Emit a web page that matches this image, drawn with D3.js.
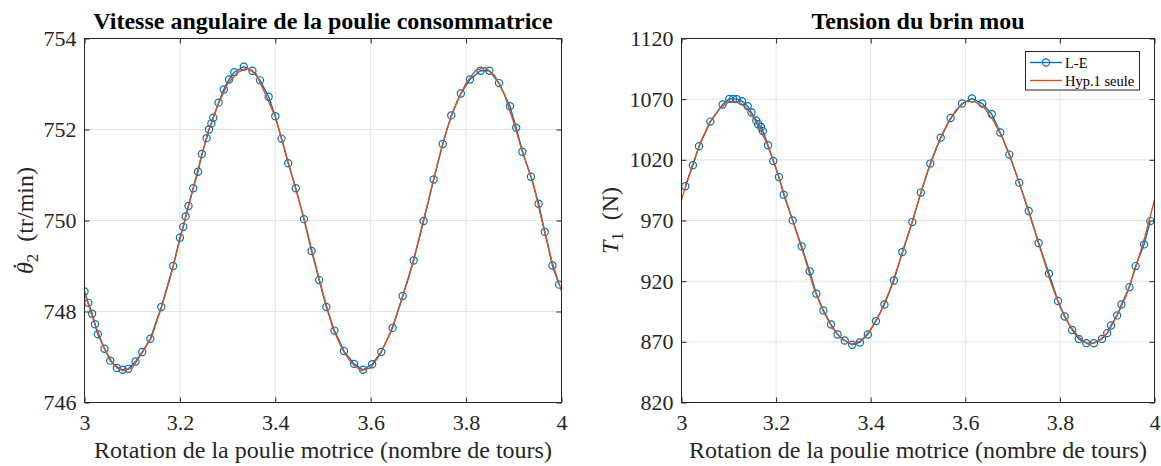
<!DOCTYPE html>
<html><head><meta charset="utf-8">
<script src="https://cdn.jsdelivr.net/npm/d3@7"></script>
<style>
html,body{margin:0;padding:0;background:#fff;}
svg{display:block;}
text{font-family:"Liberation Serif","Times New Roman",serif;fill:#262626;}
</style></head>
<body>
<svg id="chart" width="1161" height="466"></svg>
<script>
// ---------- DATA ----------
const xTicks = [3, 3.2, 3.4, 3.6, 3.8, 4];
const xTickLabels = ["3", "3.2", "3.4", "3.6", "3.8", "4"];
const leftYTicks = [746, 748, 750, 752, 754];
const rightYTicks = [820, 870, 920, 970, 1020, 1070, 1120];

const seriesNames = ["L-E", "Hyp.1 seule"];

// Left: angular velocity (tr/min), L-E (markers)
const leftLEx = [3.000,3.008,3.016,3.022,3.028,3.042,3.054,3.068,3.080,3.092,3.107,3.121,3.138,3.161,3.186,3.200,3.207,3.212,3.218,3.228,3.238,3.246,3.256,3.261,3.266,3.270,3.281,3.292,3.303,3.314,3.334,3.352,3.368,3.386,3.400,3.413,3.427,3.443,3.460,3.476,3.492,3.507,3.524,3.544,3.565,3.584,3.603,3.622,3.646,3.667,3.690,3.711,3.732,3.751,3.769,3.789,3.808,3.830,3.849,3.869,3.892,3.905,3.918,3.936,3.952,3.965,3.981,3.995];
const leftLEy = [748.44,748.19,747.95,747.72,747.50,747.18,746.92,746.76,746.72,746.74,746.90,747.11,747.40,748.10,749.00,749.62,749.86,750.09,750.32,750.71,751.07,751.46,751.81,752.00,752.13,752.26,752.59,752.88,753.10,753.26,753.38,753.29,753.08,752.72,752.29,751.80,751.26,750.71,750.03,749.33,748.69,748.10,747.58,747.13,746.85,746.72,746.84,747.11,747.64,748.34,749.12,749.99,750.90,751.68,752.31,752.79,753.10,753.29,753.29,753.02,752.51,752.04,751.51,750.96,750.37,749.75,749.01,748.59];
// Left: Hyp.1 seule (line)
const leftH1x = [3.00,3.02,3.04,3.06,3.08,3.10,3.12,3.14,3.16,3.18,3.20,3.22,3.24,3.26,3.28,3.30,3.32,3.34,3.36,3.38,3.40,3.42,3.44,3.46,3.48,3.50,3.52,3.54,3.56,3.58,3.60,3.62,3.64,3.66,3.68,3.70,3.72,3.74,3.76,3.78,3.80,3.82,3.84,3.86,3.88,3.90,3.92,3.94,3.96,3.98,4.00];
const leftH1y = [748.40,747.78,747.22,746.85,746.70,746.76,747.08,747.42,748.05,748.75,749.58,750.40,751.20,751.98,752.55,753.00,753.25,753.35,753.22,752.76,752.28,751.55,750.80,750.05,749.20,748.40,747.65,747.18,746.86,746.70,746.76,747.06,747.50,748.10,748.75,749.55,750.40,751.25,752.02,752.60,753.02,753.30,753.36,753.18,752.78,752.15,751.45,750.85,749.95,749.10,748.45];

// Right: slack side tension (N), L-E (markers)
const rightLEx = [3.008,3.024,3.037,3.061,3.087,3.101,3.109,3.117,3.128,3.140,3.148,3.158,3.162,3.168,3.172,3.183,3.194,3.206,3.216,3.235,3.254,3.271,3.285,3.300,3.316,3.330,3.345,3.361,3.377,3.394,3.411,3.429,3.449,3.467,3.488,3.506,3.526,3.548,3.569,3.593,3.614,3.636,3.656,3.674,3.693,3.714,3.734,3.755,3.777,3.796,3.810,3.826,3.840,3.856,3.872,3.889,3.900,3.908,3.921,3.930,3.947,3.960,3.978,3.991];
const rightLEy = [998.2,1015.5,1031.2,1051.5,1065.6,1070.2,1070.2,1070.0,1068.3,1064.2,1059.0,1052.5,1049.3,1047.1,1043.8,1032.0,1019.0,1005.9,991.3,970.1,948.7,928.1,909.7,895.9,884.3,876.1,871.1,867.6,869.5,876.1,887.1,900.8,920.5,944.0,968.7,993.0,1016.9,1038.3,1054.5,1066.4,1070.5,1066.4,1057.6,1042.5,1024.3,1001.2,977.8,951.4,926.2,903.6,890.9,879.8,872.4,868.9,868.9,872.4,877.2,883.5,891.8,900.8,915.1,932.4,950.3,969.5];
// Right: Hyp.1 seule (line)
const rightH1x = [3.00,3.02,3.04,3.06,3.08,3.10,3.12,3.14,3.16,3.18,3.20,3.22,3.24,3.26,3.28,3.30,3.32,3.34,3.36,3.38,3.40,3.42,3.44,3.46,3.48,3.50,3.52,3.54,3.56,3.58,3.60,3.62,3.64,3.66,3.68,3.70,3.72,3.74,3.76,3.78,3.80,3.82,3.84,3.86,3.88,3.90,3.92,3.94,3.96,3.98,4.00];
const rightH1y = [987,1012,1034,1051,1062,1068,1068,1062,1050,1034,1013,988,964,940,914,895,881,872,868,871,880,894,912,935,959,985,1010,1031,1048,1061,1068,1068,1063,1052,1037,1017,994,970,945,920,899,884,874,868,870,877,891,908,931,957,987];

// ---------- DRAWING ----------
const BLUE = "#0072BD", ORANGE = "#D95319", AX = "#262626", GRID = "#e3e3e3";
const FONT = '"Liberation Serif","Times New Roman",serif';
const svg = d3.select("#chart");

function drawPanel(cfg) {
  const g = svg.append("g");
  const x = d3.scaleLinear().domain([3, 4]).range([cfg.left, cfg.right]);
  const y = d3.scaleLinear().domain(cfg.yDomain).range([cfg.bottom, cfg.top]);
  const clipId = "clip" + cfg.id;
  svg.append("clipPath").attr("id", clipId).append("rect")
    .attr("x", cfg.left).attr("y", cfg.top)
    .attr("width", cfg.right - cfg.left).attr("height", cfg.bottom - cfg.top);

  // grid
  g.append("g").selectAll("line").data(xTicks.slice(1, -1)).join("line")
    .attr("x1", d => x(d)).attr("x2", d => x(d))
    .attr("y1", cfg.top).attr("y2", cfg.bottom)
    .attr("stroke", GRID).attr("stroke-width", 1);
  g.append("g").selectAll("line").data(cfg.yTicks.slice(1, -1)).join("line")
    .attr("y1", d => y(d)).attr("y2", d => y(d))
    .attr("x1", cfg.left).attr("x2", cfg.right)
    .attr("stroke", GRID).attr("stroke-width", 1);

  // axes (ticks inward, all four sides)
  const tl = 5;
  const styleAxis = sel => {
    sel.attr("font-family", FONT).attr("font-size", 22);
    sel.select(".domain").remove();
    sel.selectAll(".tick line").attr("stroke", AX);
    sel.selectAll(".tick text").attr("fill", AX)
      .style("font-family", FONT).style("font-size", "22px");
  };
  g.append("g").attr("transform", `translate(0,${cfg.bottom})`)
    .call(d3.axisBottom(x).tickValues(xTicks).tickFormat((d, i) => xTickLabels[i]).tickSizeInner(-tl).tickSizeOuter(0).tickPadding(12))
    .call(styleAxis);
  g.append("g").attr("transform", `translate(0,${cfg.top})`)
    .call(d3.axisTop(x).tickValues(xTicks).tickFormat("").tickSizeInner(-tl).tickSizeOuter(0))
    .call(styleAxis);
  g.append("g").attr("transform", `translate(${cfg.left},0)`)
    .call(d3.axisLeft(y).tickValues(cfg.yTicks).tickFormat(d3.format("d")).tickSizeInner(-tl).tickSizeOuter(0).tickPadding(8))
    .call(styleAxis);
  g.append("g").attr("transform", `translate(${cfg.right},0)`)
    .call(d3.axisRight(y).tickValues(cfg.yTicks).tickFormat("").tickSizeInner(-tl).tickSizeOuter(0))
    .call(styleAxis);

  // data
  const plot = g.append("g").attr("clip-path", `url(#${clipId})`);
  const le = cfg.leX.map((v, i) => [v, cfg.leY[i]]);
  const h1 = cfg.h1X.map((v, i) => [v, cfg.h1Y[i]]);
  const line = d3.line().x(d => x(d[0])).y(d => y(d[1]));
  plot.append("path").datum(le).attr("d", line)
    .attr("fill", "none").attr("stroke", BLUE).attr("stroke-width", 1.4);
  plot.append("g").selectAll("circle").data(le).join("circle")
    .attr("cx", d => x(d[0])).attr("cy", d => y(d[1])).attr("r", 3.6)
    .attr("fill", "none").attr("stroke", BLUE).attr("stroke-width", 1.2);
  plot.append("path").datum(h1).attr("d", line)
    .attr("fill", "none").attr("stroke", ORANGE).attr("stroke-width", 1.4);

  // box
  g.append("rect").attr("x", cfg.left).attr("y", cfg.top)
    .attr("width", cfg.right - cfg.left).attr("height", cfg.bottom - cfg.top)
    .attr("fill", "none").attr("stroke", AX).attr("stroke-width", 1);

  // title
  g.append("text").attr("x", (cfg.left + cfg.right) / 2).attr("y", 29)
    .attr("text-anchor", "middle").style("font-weight", "bold").style("font-size", "24px")
    .style("fill", "#000").text(cfg.title);

  // x label
  g.append("text").attr("x", (cfg.left + cfg.right) / 2).attr("y", 458)
    .attr("text-anchor", "middle").style("font-size", "24px")
    .text("Rotation de la poulie motrice (nombre de tours)");

  // y label
  const yl = g.append("text")
    .attr("transform", `translate(${cfg.ylabelX},${(cfg.top + cfg.bottom) / 2}) rotate(-90)`)
    .attr("text-anchor", "middle").style("font-size", "24px");
  cfg.ylabel(yl);
  return {x, y, g};
}

drawPanel({
  id: "L", left: 84.5, right: 561.5, top: 38.5, bottom: 402.5,
  yDomain: [746, 754], yTicks: leftYTicks,
  leX: leftLEx, leY: leftLEy, h1X: leftH1x, h1Y: leftH1y,
  title: "Vitesse angulaire de la poulie consommatrice",
  ylabelX: 33,
  ylabel: t => {
    t.append("tspan").style("font-style", "italic").text("θ");
    t.append("tspan").attr("dx", -8).attr("dy", -4).text("\u02D9");
    t.append("tspan").attr("dx", 0).attr("dy", 9).style("font-size", "17px").text("2");
    t.append("tspan").attr("dy", -5).text("\u2002(tr/min)");
  }
});

drawPanel({
  id: "R", left: 681.5, right: 1154.5, top: 38.5, bottom: 402.5,
  yDomain: [820, 1120], yTicks: rightYTicks,
  leX: rightLEx, leY: rightLEy, h1X: rightH1x, h1Y: rightH1y,
  title: "Tension du brin mou",
  ylabelX: 618,
  ylabel: t => {
    t.append("tspan").style("font-style", "italic").text("T");
    t.append("tspan").attr("dy", 5).style("font-size", "17px").text("1");
    t.append("tspan").attr("dy", -5).text("\u2002(N)");
  }
});

// legend
const lg = svg.append("g");
lg.append("rect").attr("x", 1025.5).attr("y", 51.5).attr("width", 114).attr("height", 38.5)
  .attr("fill", "#fff").attr("stroke", AX).attr("stroke-width", 1);
const legendRows = [
  {name: seriesNames[0], color: BLUE, marker: true, y: 62.5},
  {name: seriesNames[1], color: ORANGE, marker: false, y: 80.5}
];
legendRows.forEach(r => {
  lg.append("line").attr("x1", 1030).attr("x2", 1062).attr("y1", r.y).attr("y2", r.y)
    .attr("stroke", r.color).attr("stroke-width", 1.4);
  if (r.marker) lg.append("circle").attr("cx", 1046).attr("cy", r.y).attr("r", 3.6)
    .attr("fill", "none").attr("stroke", r.color).attr("stroke-width", 1.2);
  lg.append("text").attr("x", 1065).attr("y", r.y + 5).style("font-size", "14.5px")
    .style("fill", "#000").text(r.name);
});
</script>
</body></html>
